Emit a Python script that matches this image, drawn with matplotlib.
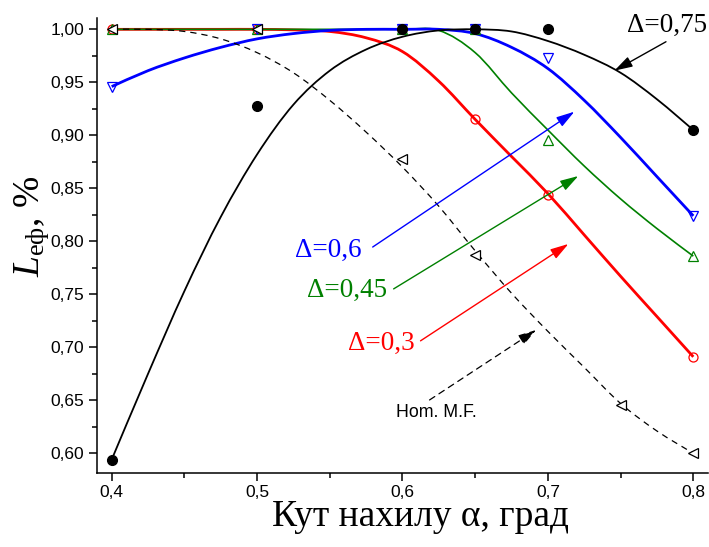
import numpy as np
import matplotlib
matplotlib.use("Agg")
import matplotlib.pyplot as plt
from matplotlib.path import Path
from matplotlib.patches import PathPatch
from matplotlib.ticker import MultipleLocator, FuncFormatter

# measured points (markers)
alpha = [0.4, 0.5, 0.6, 0.65, 0.7, 0.8]
alpha_hom = [0.4, 0.5, 0.6, 0.65, 0.75, 0.8]
pts_d03 = [1.0, 1.0, 1.0, 0.915, 0.844, 0.691]
pts_d045 = [1.0, 1.0, 1.0, 1.0, 0.896, 0.786]
pts_d06 = [0.946, 1.0, 1.0, 1.0, 0.973, 0.824]
pts_d075 = [0.594, 0.928, 1.0, 1.0, 1.0, 0.905]
pts_hom = [1.0, 1.0, 0.878, 0.787, 0.646, 0.600]

# approximating curves, sampled every 0.025
crv_x = [0.400, 0.425, 0.450, 0.475, 0.500, 0.525, 0.550, 0.575, 0.600,
         0.625, 0.650, 0.675, 0.700, 0.725, 0.750, 0.775, 0.800]
crv_d03 = [1.0, 1.0, 1.0, 1.0, 1.0, 0.9995, 0.998, 0.992, 0.979,
           0.951, 0.915, 0.880, 0.845, 0.806, 0.767, 0.729, 0.691]
crv_d045 = [1.0, 1.0, 1.0, 1.0, 1.0, 1.0, 1.0, 1.0, 1.0,
            0.999, 0.978, 0.940, 0.905, 0.871, 0.840, 0.812, 0.786]
crv_d06 = [0.946, 0.961, 0.973, 0.983, 0.991, 0.996, 0.999, 1.0, 1.0,
           1.0, 0.996, 0.983, 0.963, 0.933, 0.898, 0.861, 0.824]
crv_d075 = [0.594, 0.675, 0.753, 0.823, 0.882, 0.929, 0.961, 0.981, 0.993,
            0.999, 1.0, 0.998, 0.989, 0.976, 0.959, 0.934, 0.905]
crv_hom = [1.0, 1.0, 0.998, 0.991, 0.978, 0.959, 0.933, 0.903, 0.870,
           0.833, 0.791, 0.751, 0.715, 0.681, 0.647, 0.621, 0.600]

plt.rcParams['mathtext.fontset'] = 'custom'
plt.rcParams['mathtext.rm'] = 'Liberation Serif'
plt.rcParams['mathtext.it'] = 'Liberation Serif:italic'


def smooth_path(xs, ys):
    # Catmull-Rom through the points, drawn as cubic Bezier segments
    p = np.column_stack([xs, ys]).astype(float)
    verts = [p[0]]
    codes = [Path.MOVETO]
    n = len(p)
    for i in range(n - 1):
        p0 = p[i - 1] if i > 0 else p[i]
        p1, p2 = p[i], p[i + 1]
        p3 = p[i + 2] if i + 2 < n else p[i + 1]
        verts += [p1 + (p2 - p0) / 6, p2 - (p3 - p1) / 6, p2]
        codes += [Path.CURVE4] * 3
    return Path(verts, codes)


fig = plt.figure(figsize=(7.09, 5.47), dpi=100)
ax = fig.add_axes([0.1364, 0.1353, 0.8626, 0.8318])

curves = [
    (crv_d03, 'red', 2.0, '-'),
    (crv_d045, 'green', 1.2, '-'),
    (crv_d06, 'blue', 2.0, '-'),
    (crv_d075, 'black', 1.3, '-'),
    (crv_hom, 'black', 0.9, (0, (5, 4))),
]
for cy, col, lw, ls in curves:
    ax.add_patch(PathPatch(smooth_path(crv_x, cy), fill=False, edgecolor=col,
                           lw=lw, linestyle=ls, zorder=2))

ax.plot(alpha, pts_d03, 'o', ms=6.5, mfc='none', mec='red', mew=0.9, zorder=3)
ax.plot(alpha, pts_d045, '^', ms=7.5, mfc='none', mec='green', mew=0.9, zorder=3)
ax.plot(alpha, pts_d06, 'v', ms=7.5, mfc='none', mec='blue', mew=0.9, zorder=3)
ax.plot(alpha_hom, pts_hom, '<', ms=7.5, mfc='white', mec='black', mew=0.9, zorder=4)
ax.plot(alpha, pts_d075, 'o', ms=7, color='black', zorder=5)

serif = 'Liberation Serif'
labels = [
    ('Δ=0,75', 0.7821, 0.9975, 'black', (0.7812, 0.9883), (0.7457, 0.961)),
    ('Δ=0,6', 0.549, 0.7852, 'blue', (0.5795, 0.7946), (0.7182, 0.9223)),
    ('Δ=0,45', 0.5616, 0.7475, 'green', (0.5939, 0.7551), (0.7209, 0.8616)),
    ('Δ=0,3', 0.5853, 0.6975, 'red', (0.6124, 0.7061), (0.7141, 0.7975)),
]
for txt, tx, ty, col, tail, head in labels:
    ax.text(tx, ty, txt, color=col, family=serif, fontsize=19.5,
            ha='center', va='baseline', zorder=6)
    ax.annotate('', xy=head, xytext=tail,
                arrowprops=dict(arrowstyle='-|>,head_length=0.5,head_width=0.15',
                                mutation_scale=22, color=col, lw=1,
                                shrinkA=0, shrinkB=0), zorder=6)

ax.text(0.6236, 0.634, 'Hom. M.F.', family='Liberation Sans', fontsize=12.8,
        ha='center', va='baseline')
ax.annotate('', xy=(0.6919, 0.7163), xytext=(0.6186, 0.6503),
            arrowprops=dict(arrowstyle='-|>,head_length=0.5,head_width=0.15',
                            mutation_scale=22, color='black', lw=0.9,
                            linestyle=(0, (5, 4)), shrinkA=0, shrinkB=0))

ax.set_xlim(0.3897, 0.8103)
ax.set_ylim(0.5814, 1.0107)
ax.xaxis.set_major_locator(MultipleLocator(0.1))
ax.xaxis.set_minor_locator(MultipleLocator(0.05))
ax.yaxis.set_major_locator(MultipleLocator(0.05))
ax.yaxis.set_minor_locator(MultipleLocator(0.025))
ax.xaxis.set_major_formatter(FuncFormatter(lambda v, p: f'{v:.1f}'.replace('.', ',')))
ax.yaxis.set_major_formatter(FuncFormatter(lambda v, p: f'{v:.2f}'.replace('.', ',')))

for s in ['top', 'right']:
    ax.spines[s].set_visible(False)
for s in ['left', 'bottom']:
    ax.spines[s].set_linewidth(1.1)
ax.tick_params(which='major', direction='out', length=5.8, width=1.1, pad=3,
               labelsize=12.5)
ax.tick_params(which='minor', direction='out', length=3.6, width=1.1)
for lab in ax.get_xticklabels() + ax.get_yticklabels():
    lab.set_family('Liberation Sans')

ax.set_xlabel('Кут нахилу α, град', family=serif, fontsize=27)
ax.xaxis.set_label_coords(0.5296, -0.058)
ax.set_ylabel(r'$L_{\mathrm{еф}}$, %', family=serif, fontsize=27)
ax.yaxis.set_label_coords(-0.074, 0.543)

fig.savefig('out.png', dpi=100)
